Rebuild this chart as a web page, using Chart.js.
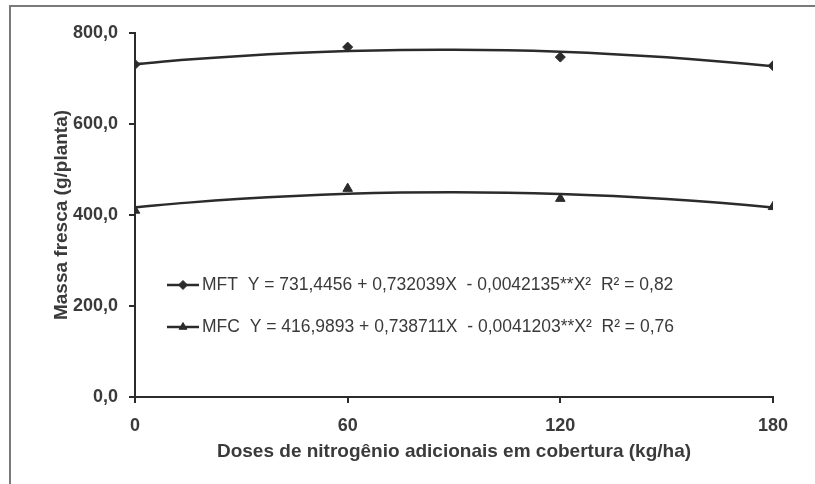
<!DOCTYPE html>
<html>
<head>
<meta charset="utf-8">
<script src="https://cdn.jsdelivr.net/npm/chart.js@4/dist/chart.umd.min.js"></script>
<style>
  html, body { margin: 0; padding: 0; background: #fff; }
  #wrap { position: relative; width: 815px; height: 484px; }
</style>
</head>
<body>
<div id="wrap"><canvas id="chart" width="815" height="484"></canvas></div>
<script>
/* ---------- Data ---------- */
const doses = [0, 60, 120, 180];
const mftObserved = [731, 769, 747, 728];
const mfcObserved = [410, 458, 436, 418];

// fitted curves, every 15 kg/ha
const curveX = [0, 15, 30, 45, 60, 75, 90, 105, 120, 135, 150, 165, 180];
const mftCurve = [731.4, 741.5, 749.6, 755.9, 760.2, 762.7, 763.2, 761.9, 758.6, 753.5, 746.5, 737.5, 726.7];
const mfcCurve = [417.0, 427.2, 435.5, 441.9, 446.5, 449.2, 450.1, 449.1, 446.3, 441.6, 435.1, 426.7, 416.5];

const yTickLabels = ['0,0', '200,0', '400,0', '600,0', '800,0'];
const legendLabels = [
    'MFT  Y = 731,4456 + 0,732039X  - 0,0042135**X\u00B2  R\u00B2 = 0,82',
    'MFC  Y = 416,9893 + 0,738711X  - 0,0041203**X\u00B2  R\u00B2 = 0,76'
];
const legendStyles = ['rectRot', 'triangle'];

const ink = '#2b2b2b';
const textColor = '#3a3a3a';
const family = '"Liberation Sans", Arial, sans-serif';

const toPoints = (xs, ys) => xs.map((x, i) => ({ x: x, y: ys[i] }));

/* ---------- Plugins ---------- */
// outer frame of the figure (left and top edges only)
const framePlugin = {
    id: 'frame',
    beforeDraw(chart) {
        const ctx = chart.ctx;
        ctx.save();
        ctx.strokeStyle = '#7a7a7a';
        ctx.lineWidth = 2;
        ctx.beginPath();
        ctx.moveTo(10, chart.height);
        ctx.lineTo(10, 6);
        ctx.lineTo(chart.width, 6);
        ctx.stroke();
        ctx.restore();
    }
};

// legend with equations, inside the plot
const equationLegend = {
    id: 'equationLegend',
    afterDraw(chart) {
        const ctx = chart.ctx;
        const area = chart.chartArea;
        ctx.save();
        legendLabels.forEach((label, i) => {
            const y = area.top + 252 + i * 42;
            const x0 = area.left + 32;
            ctx.strokeStyle = ink;
            ctx.fillStyle = ink;
            ctx.lineWidth = 2.5;
            ctx.beginPath();
            ctx.moveTo(x0, y);
            ctx.lineTo(x0 + 32, y);
            ctx.stroke();
            ctx.lineWidth = 1;
            Chart.helpers.drawPoint(ctx, {
                pointStyle: legendStyles[i],
                radius: 4.5,
                borderWidth: 1
            }, x0 + 16, y);
            ctx.font = '17.5px ' + family;
            ctx.fillStyle = textColor;
            ctx.textBaseline = 'middle';
            ctx.fillText(label, x0 + 35, y);
        });
        ctx.restore();
    }
};

/* ---------- Chart ---------- */
const ctx = document.getElementById('chart').getContext('2d');
new Chart(ctx, {
    type: 'scatter',
    data: {
        datasets: [
            {
                label: 'MFT',
                data: toPoints(doses, mftObserved),
                pointStyle: 'rectRot',
                pointRadius: 5,
                backgroundColor: ink,
                borderColor: ink,
                showLine: false
            },
            {
                label: 'MFC',
                data: toPoints(doses, mfcObserved),
                pointStyle: 'triangle',
                pointRadius: 5.5,
                backgroundColor: ink,
                borderColor: ink,
                showLine: false
            },
            {
                label: 'MFT fit',
                data: toPoints(curveX, mftCurve),
                showLine: true,
                pointRadius: 0,
                borderColor: ink,
                borderWidth: 2.5,
                tension: 0.4
            },
            {
                label: 'MFC fit',
                data: toPoints(curveX, mfcCurve),
                showLine: true,
                pointRadius: 0,
                borderColor: ink,
                borderWidth: 2.5,
                tension: 0.4
            }
        ]
    },
    options: {
        responsive: false,
        animation: false,
        events: [],
        layout: {
            autoPadding: false,
            padding: { top: 33, right: 42, left: 0, bottom: 0 }
        },
        plugins: {
            legend: { display: false },
            tooltip: { enabled: false }
        },
        scales: {
            x: {
                type: 'linear',
                min: 0,
                max: 180,
                afterFit: s => { s.height = 87; },
                border: { display: true, color: ink, width: 2 },
                grid: { drawOnChartArea: false, drawTicks: true, tickLength: 6, color: ink, lineWidth: 2 },
                ticks: {
                    stepSize: 60,
                    padding: 12,
                    color: textColor,
                    font: { family: family, size: 18, weight: 'bold' }
                },
                title: {
                    display: true,
                    text: 'Doses de nitrogênio adicionais em cobertura (kg/ha)',
                    color: textColor,
                    padding: { top: 0, bottom: 21 },
                    font: { family: family, size: 19, weight: 'bold' }
                }
            },
            y: {
                min: 0,
                max: 800,
                afterFit: s => { s.width = 135; },
                border: { display: true, color: ink, width: 2 },
                grid: { drawOnChartArea: false, drawTicks: true, tickLength: 6, color: ink, lineWidth: 2 },
                ticks: {
                    stepSize: 200,
                    padding: 11,
                    color: textColor,
                    callback: (v) => yTickLabels[v / 200],
                    font: { family: family, size: 18, weight: 'bold' }
                },
                title: {
                    display: true,
                    text: 'Massa fresca (g/planta)',
                    color: textColor,
                    padding: { top: 50, bottom: 0 },
                    font: { family: family, size: 19, weight: 'bold' }
                }
            }
        }
    },
    plugins: [framePlugin, equationLegend]
});
</script>
</body>
</html>
